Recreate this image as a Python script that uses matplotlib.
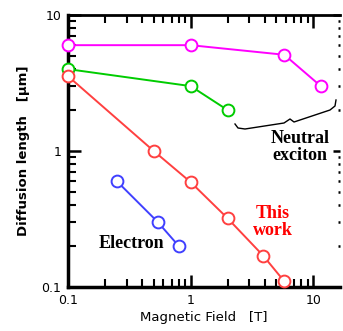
import numpy as np
import matplotlib.pyplot as plt
from matplotlib.lines import Line2D

# data
neutral1_x = [0.1, 1.0, 5.8, 11.5]
neutral1_y = [6.0, 6.0, 5.1, 3.0]
neutral2_x = [0.1, 1.0, 2.0]
neutral2_y = [4.0, 3.0, 2.0]
this_x = [0.1, 0.5, 1.0, 2.0, 3.9, 5.8]
this_y = [3.55, 1.0, 0.59, 0.32, 0.17, 0.11]
elec_x = [0.25, 0.54, 0.8]
elec_y = [0.6, 0.3, 0.2]

fig = plt.figure(figsize=(3.43, 3.31), dpi=100)
ax = fig.add_axes([68 / 343, 1 - 287 / 331, 272 / 343, 272 / 331])

mk = dict(marker='o', markersize=8.5, markerfacecolor='white',
          markeredgewidth=1.4, linewidth=1.4, clip_on=False, zorder=3)
ax.plot(neutral1_x, neutral1_y, color='#ff00ff', **mk)
ax.plot(neutral2_x, neutral2_y, color='#00cc00', **mk)
ax.plot(this_x, this_y, color='#ff4040', **mk)
ax.plot(elec_x, elec_y, color='#4040ff', **mk)

ax.set_xscale('log')
ax.set_yscale('log')
ax.set_xlim(0.1, 16.5)
ax.set_ylim(0.1, 10)

ax.set_xticks([0.1, 1, 10])
ax.set_xticklabels(['0.1', '1', '10'])
ax.set_yticks([0.1, 1, 10])
ax.set_yticklabels(['0.1', '1', '10'])

ax.spines['left'].set_linewidth(2.5)
ax.spines['bottom'].set_linewidth(2.5)
ax.spines['top'].set_linewidth(2.0)
ax.spines['right'].set_visible(False)

ax.tick_params(which='major', direction='in', length=9, width=1.8,
               top=True, right=False, labelsize=9, pad=5)
ax.tick_params(which='minor', direction='in', length=6, width=1.5,
               top=True, right=False)

# right side: dotted-looking minor ticks, no spine
rax = ax.twinx()
rax.set_yscale('log')
rax.set_ylim(ax.get_ylim())
for s in rax.spines.values():
    s.set_visible(False)
rax.set_yticks([0.1, 1, 10])
rax.tick_params(which='major', direction='in', length=5, width=1.8,
                labelright=False)
rax.tick_params(which='minor', direction='in', length=1.5, width=1.8)

ax.set_xlabel('Magnetic Field   [T]', fontsize=9.5, labelpad=3)
ax.set_ylabel('Diffusion length   [\u03bcm]', fontsize=9.5, fontweight='bold',
              labelpad=8)

serif = dict(family='Liberation Serif', fontweight='bold', fontsize=13)
ax.text(0.853, 0.515, 'Neutral\nexciton', transform=ax.transAxes, ha='center',
        va='center', linespacing=1.0, color='black', **serif)
ax.text(0.754, 0.24, 'This\nwork', transform=ax.transAxes, ha='center',
        va='center', linespacing=1.0, color='#ff0000', **serif)
ax.text(0.232, 0.16, 'Electron', transform=ax.transAxes, ha='center',
        va='center', color='black', **serif)

# curly brace under the neutral exciton curves (figure pixel coords)
bx = np.array([235, 238, 245, 284, 290, 294, 330, 335, 336])
by = np.array([124, 128, 129, 123, 119, 122, 110, 106, 100])
fig.add_artist(Line2D(bx / 343, 1 - by / 331, transform=fig.transFigure,
                      color='black', linewidth=1.0))

fig.savefig('out.png', dpi=100)
